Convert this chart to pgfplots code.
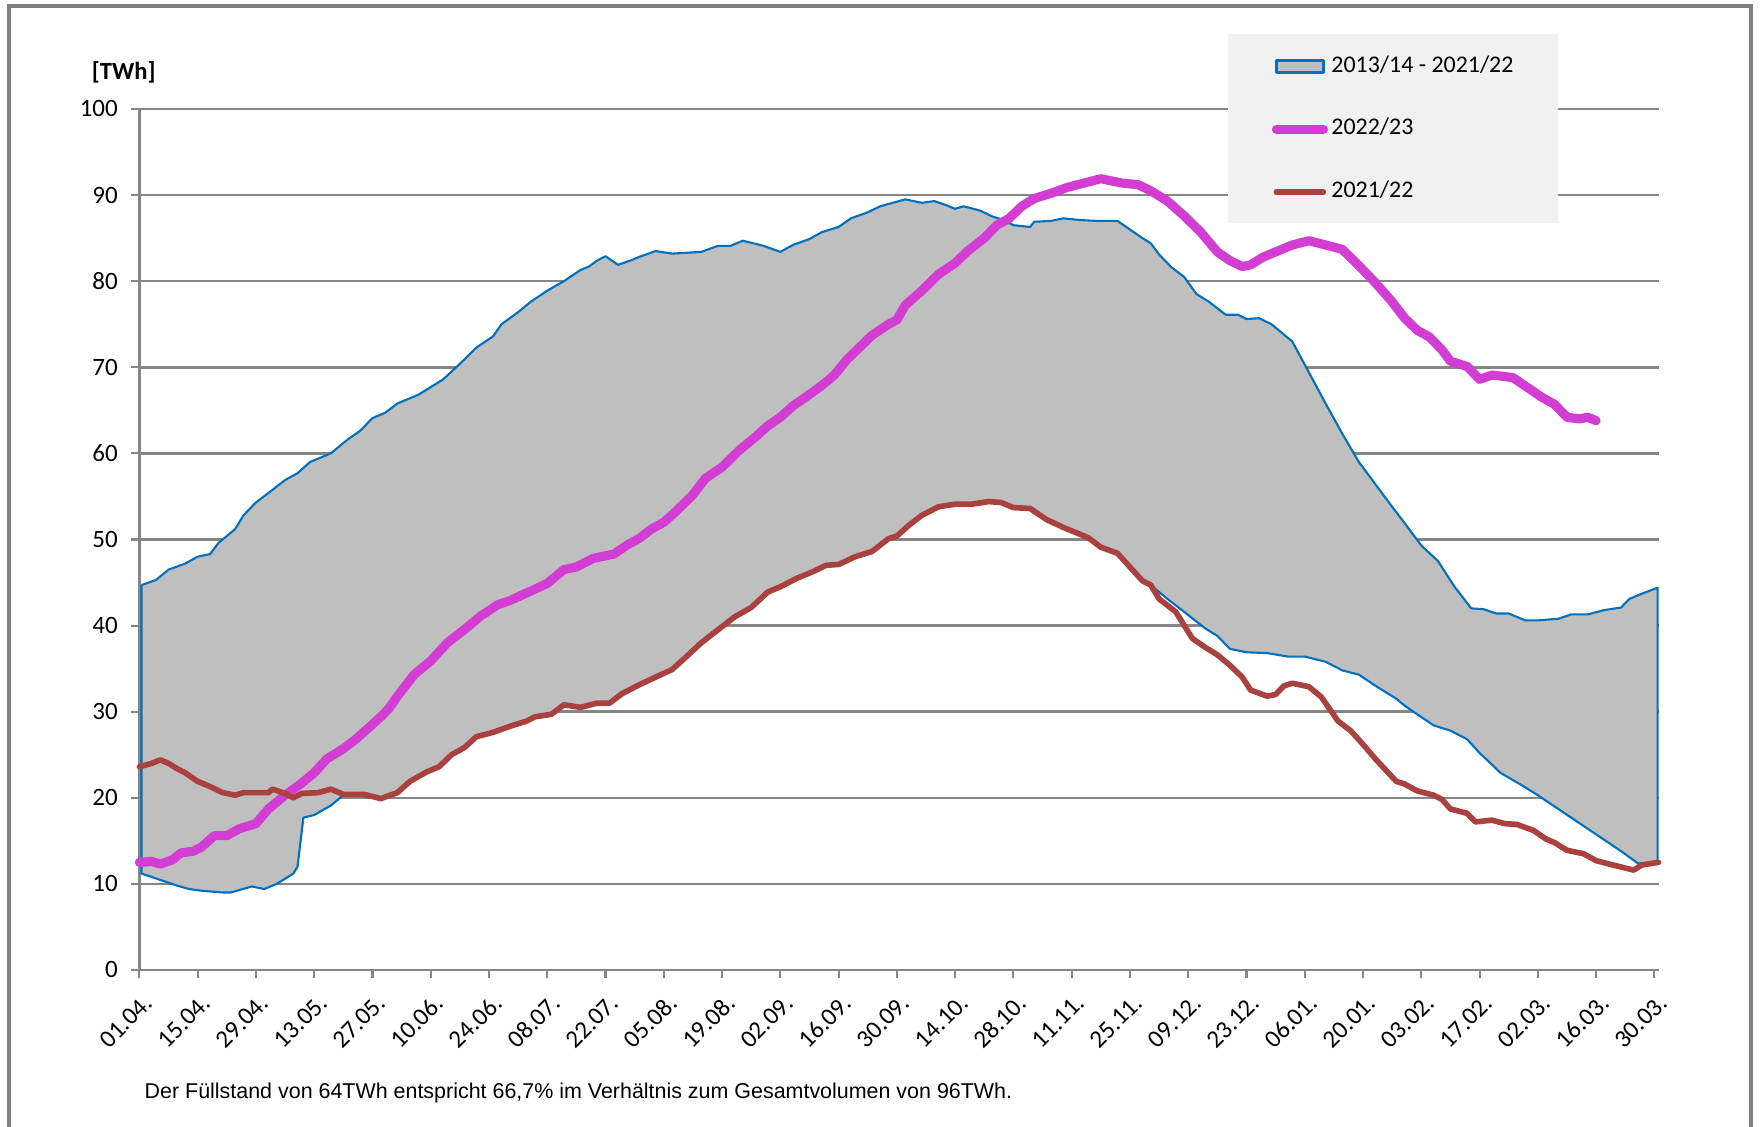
\documentclass[border=0pt]{standalone}
\usepackage{pgfplots}
\pgfplotsset{compat=1.18}
\usepackage{pgfplotstable}
\usepackage{fontspec}
\setmainfont{Carlito}
\newfontfamily\notefont{Liberation Sans}

\definecolor{bandgray}{RGB}{191,191,191}
\definecolor{bandblue}{RGB}{0,112,192}
\definecolor{magentaline}{RGB}{211,61,211}
\definecolor{brownline}{RGB}{170,65,62}
\definecolor{gridgray}{RGB}{134,134,134}
\definecolor{legendbg}{RGB}{241,241,241}
\definecolor{framegray}{RGB}{128,128,128}

\pgfplotsset{
  lineleg/.style={legend image code/.code={\draw[##1] (0cm,0cm) -- (0.47cm,0cm);}},
  bandleg/.style={legend image code/.code={\draw[fill=bandgray, draw=bandblue, line width=0.9pt] (0cm,-0.06cm) rectangle (0.47cm,0.06cm);}},
}

% range 2013/14 - 2021/22: upper envelope (forward), then lower envelope (backward)
\pgfplotstableread{
d v
0.5 44.7
4 45.3
7 46.5
11 47.2
14 48.0
17 48.3
19 49.6
23 51.2
25 52.8
28 54.3
31 55.4
35 56.9
38 57.7
41 59.0
46 60.0
50 61.6
53 62.6
56 64.1
59 64.7
62 65.8
67 66.8
70 67.7
73 68.6
77 70.4
81 72.3
85 73.6
87 75.0
91 76.4
94 77.6
98 78.9
102 80.0
106 81.3
108 81.7
110 82.4
112 82.9
115 81.9
118 82.4
120 82.8
124 83.5
128 83.2
135 83.4
139 84.1
142 84.1
145 84.7
150 84.1
154 83.4
157 84.2
161 84.9
164 85.7
168 86.3
171 87.3
175 88.0
178 88.7
181 89.1
184 89.5
188 89.1
191 89.3
194 88.8
196 88.4
198 88.7
202 88.2
205 87.5
207 87.2
210 86.5
214 86.3
215 86.9
219 87.0
222 87.3
226 87.1
230 87.0
235 87.0
238 86.0
241 85.0
243 84.4
245 83.1
248 81.6
251 80.5
254 78.5
257 77.6
261 76.1
264 76.1
266 75.6
269 75.7
272 75.0
277 73.0
281 69.4
285 65.8
289 62.3
293 59.0
297 56.4
301 53.8
304 51.9
308 49.3
312 47.5
316 44.5
320 42.0
323 41.9
326 41.4
329 41.4
333 40.6
336 40.6
341 40.8
344 41.3
348 41.3
352 41.8
356 42.1
358 43.1
361 43.7
364.8 44.4
364.8 12.5
362 12.3
360 12.4
356 13.8
352 15.1
348 16.4
344 17.7
340 19.0
336 20.3
332 21.5
327 22.9
324 24.3
322 25.2
319 26.8
315 27.8
311 28.4
307 29.7
304 30.7
302 31.5
297 33.0
293 34.3
289 34.8
285 35.8
280 36.4
276 36.4
271 36.8
266 36.9
262 37.3
259 38.8
256 39.7
251 41.6
247 43.1
243 44.7
241 45.3
238 46.8
235 48.3
231 49.0
228 50.1
226 50.5
222 51.3
218 52.2
214 53.5
210 53.6
207 54.2
204 54.3
200 54.0
196 54.0
192 53.7
188 52.7
185 51.6
182 50.3
180 50.0
176 48.5
172 47.9
168 47.0
165 46.9
162 46.2
158 45.4
154 44.4
151 43.8
147 42.0
143 40.9
139 39.4
135 37.9
131 36.1
128 34.8
124 33.9
120 33.0
116 32.0
113 30.9
110 30.9
106 30.4
102 30.7
99 29.6
95 29.3
93 28.8
89 28.2
85 27.5
81 27.0
78 25.7
75 24.9
72 23.5
69 22.9
65 21.8
62 20.5
58 19.9
54 20.2
49 20.3
46 19.1
42 18.0
39.4 17.7
38 12.0
37 11.2
33 10.0
30 9.4
27 9.7
22 9.0
20 9.0
15 9.2
12 9.4
9 9.8
6 10.3
0.5 11.2
0.5 44.7
}\bandtable

% 2022/23
\pgfplotstableread{
d v
0 12.5
3 12.6
5 12.3
8 12.8
10 13.6
13 13.8
15 14.3
18 15.6
21 15.6
24 16.4
28 17.0
31 18.7
35 20.3
39 21.7
42 22.9
45 24.5
49 25.7
52 26.8
55 28.1
58 29.4
60 30.4
62 31.8
66 34.3
70 35.9
74 38.0
78 39.5
82 41.1
86 42.4
89 42.9
94 44.0
98 44.9
102 46.5
105 46.8
109 47.8
114 48.3
117 49.3
120 50.1
123 51.2
126 52.0
129 53.3
133 55.2
136 57.1
140 58.4
144 60.3
148 61.9
151 63.2
154 64.2
157 65.5
160 66.5
164 67.9
167 69.1
170 70.9
173 72.3
176 73.7
180 75.0
182 75.5
184 77.2
188 78.9
192 80.8
196 82.1
199 83.5
203 85.0
206 86.5
209 87.3
212 88.7
215 89.6
219 90.2
223 90.9
227 91.4
231 91.9
236 91.4
240 91.2
243 90.5
247 89.3
251 87.6
255 85.7
259 83.4
262 82.4
265 81.7
267 81.9
270 82.8
273 83.4
277 84.2
281 84.7
285 84.2
289 83.7
293 81.8
297 79.8
301 77.6
304 75.7
307 74.3
310 73.5
313 72.0
315 70.7
319 70.1
322 68.6
325 69.1
330 68.8
334 67.5
337 66.5
340 65.7
343 64.2
346 64.0
348 64.2
350 63.8
}\seriesB

% 2021/22
\pgfplotstableread{
d v
0 23.6
3 24.0
5 24.4
7 24.0
9 23.4
11 22.9
14 21.9
17 21.3
20 20.6
23 20.3
25 20.6
28 20.6
31 20.6
32 21.0
35 20.5
37 20.0
39 20.5
43 20.6
46 21.0
49 20.4
54 20.4
58 19.9
62 20.6
65 21.9
69 23.0
72 23.6
75 25.0
78 25.8
81 27.1
85 27.6
89 28.3
93 28.9
95 29.4
99 29.7
102 30.8
106 30.5
110 31.0
113 31.0
116 32.1
120 33.1
124 34.0
128 34.9
131 36.2
135 38.0
139 39.5
143 41.0
147 42.1
151 43.9
154 44.5
158 45.5
162 46.3
165 47.0
168 47.1
172 48.0
176 48.6
180 50.1
182 50.4
185 51.7
188 52.8
192 53.8
196 54.1
200 54.1
204 54.4
207 54.3
210 53.7
214 53.6
218 52.3
222 51.4
226 50.6
228 50.2
231 49.1
235 48.4
238 46.8
241 45.2
243 44.7
245 43.1
249 41.6
253 38.5
256 37.5
259 36.6
262 35.4
265 34.0
267 32.5
271 31.8
273 32.0
275 33.0
277 33.3
281 32.9
284 31.7
288 28.9
291 27.8
294 26.2
297 24.5
302 21.9
304 21.6
307 20.8
311 20.3
313 19.8
315 18.7
319 18.2
321 17.2
325 17.4
328 17.0
331 16.9
335 16.2
338 15.2
340 14.8
343 13.9
347 13.5
350 12.7
354 12.2
359 11.6
361 12.2
365 12.5
}\seriesA

\begin{document}
\begin{tikzpicture}
\path[use as bounding box] (0,0) rectangle (17.63cm,11.27cm);
\begin{scope}
\clip (0,0) rectangle (17.63cm,11.27cm);
\draw[framegray, line width=0.9pt] (0.09cm,-1cm) -- (0.09cm,11.21cm) -- (17.51cm,11.21cm) -- (17.51cm,-1cm);
\end{scope}
\begin{axis}[
  at={(1.394cm,1.57cm)}, anchor=south west,
  scale only axis, width=15.191cm, height=8.61cm,
  xmin=0, xmax=365, ymin=0, ymax=100,
  clip=false,
  axis x line*=bottom, axis y line*=left,
  axis line style={-, draw=gridgray, line width=0.7pt},
  xtick={0,14,...,364},
  xticklabels={01.04.,15.04.,29.04.,13.05.,27.05.,10.06.,24.06.,08.07.,22.07.,05.08.,19.08.,02.09.,16.09.,30.09.,14.10.,28.10.,11.11.,25.11.,09.12.,23.12.,06.01.,20.01.,03.02.,17.02.,02.03.,16.03.,30.03.},
  ytick={0,10,...,100},
  ymajorgrids,
  major grid style={draw=gridgray, line width=0.7pt},
  tick align=outside, major tick length=0.08cm,
  tick style={draw=gridgray, line width=0.6pt},
  /pgf/number format/assume math mode=true,
  ticklabel style={font=\fontsize{7.1}{8.5}\selectfont, text=black},
  yticklabel style={inner sep=0pt, anchor=east, xshift=-0.13cm},
  xticklabel style={inner sep=0pt, rotate=45, anchor=east, xshift=-0.08cm, yshift=-0.21cm},
  legend style={at={(0.7450,1.0670)}, anchor=north west, draw=none, fill=none,
    inner sep=0pt, row sep=0.34cm, font=\fontsize{6.8}{8}\selectfont,
    nodes={inner sep=1pt},
    /tikz/every even column/.append style={column sep=0cm}},
  legend cell align=left,
]
\fill[legendbg] (axis cs:261.6,86.8) rectangle (axis cs:340.9,108.7);

\addplot[fill=bandgray, draw=bandblue, line width=0.6pt, line join=round, bandleg] table[x=d,y=v]{\bandtable};
\addlegendentry{2013/14 - 2021/22}
\addplot[draw=magentaline, line width=2.6pt, line join=round, line cap=round, lineleg] table[x=d,y=v]{\seriesB};
\addlegendentry{2022/23}
\addplot[draw=brownline, line width=1.6pt, line join=round, line cap=round, lineleg] table[x=d,y=v]{\seriesA};
\addlegendentry{2021/22}
\end{axis}
\node[font=\bfseries\fontsize{7}{8.5}\selectfont] at (1.237cm,10.55cm) {[TWh]};
\node[anchor=west, inner sep=0pt, font=\notefont\fontsize{6.1}{7}\selectfont] at (1.44cm,0.34cm) {Der Füllstand von 64TWh entspricht 66,7\% im Verhältnis zum Gesamtvolumen von 96TWh.};
\end{tikzpicture}
\end{document}
